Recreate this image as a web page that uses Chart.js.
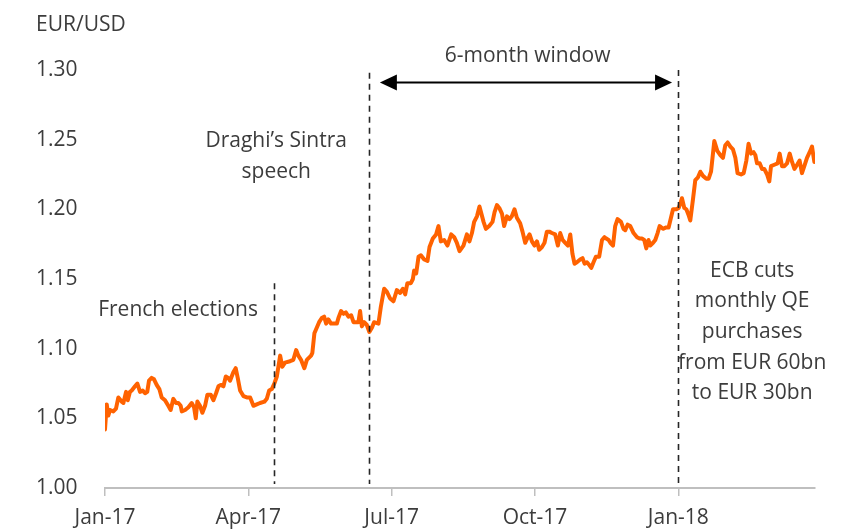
<!DOCTYPE html>
<html>
<head>
<meta charset="utf-8">
<script src="https://cdn.jsdelivr.net/npm/chart.js@4.4.1/dist/chart.umd.min.js"></script>
<style>
  html, body { margin: 0; padding: 0; background: #fff; }
  #wrap { width: 846px; height: 531px; }
</style>
</head>
<body>
<div id="wrap"><canvas id="fxChart"></canvas></div>
<script>
// EUR/USD. x = days since 1 Jan 2017
const tradeDays = [
  0,1.1,2.1,3.2,5.3,7,8.5,10.6,11.7,13.4,14.5,15.9,17,19.1,20.6,22.3,24,25.5,26.9,28,29.7,31.2,32.9,34.6,36.1,38.2,40.3,41.8,43.5,45.2,46.7,48.2,48.9,51,53.1,55.2,56.7,57.8,58.8,60.5,62,63.7,65.2,67.3,69,70.7,72.2,73.7,75.4,76.9,78.5,
  79.6,81.7,83.2,84.5,86,88.1,90.3,92.4,94.5,96.6,98.7,101.5,103,104.5,106.2,107.8,109.4,111.5,112.9,114.6,117.8,119.9,121.7,123.1,124.8,126.9,128.5,131.2,132,133.3,134.8,136.3,138,139.5,140.8,142.2,143.9,146,147.6,148.6,150.3,151.8,153.3,155,156.7,
  158.2,161.3,162.4,163.5,165,166.7,168.3,169.9,171.3,174.1,175.6,177.7,179.4,181.5,183.6,185.8,187.9,189.6,191.1,192.5,194.7,196,196.8,198.1,199.6,201.1,203.2,205.3,206.6,208.7,210.8,212.3,213.8,215.9,218,220.4,222.3,224,225.7,228.2,230.4,232,233.6,235,236.8,238.4,
  241,242.5,244.6,246.7,248,249.5,251,252.7,254.1,255.9,257.5,259,260.7,262.2,264.3,265.8,267.5,269.2,270.3,271.8,273.4,275,276.4,278.2,279.8,281.3,282.8,284.5,286.6,288.3,289.8,291.3,293,294.7,296.2,297.6,298.9,300.4,302.5,304,305.3,306.8,308.3,309.6,311,312.5,314.6,316.4,318,
  319.1,320.6,321.7,323.4,324.8,326.3,328.5,330.1,331.2,332.7,334.4,336.5,338.7,340.3,341.8,343.3,344.6,346,347.1,348.9,350.3,351.8,353.1,355.2,357.3,358.8,360.3,361.6,363.7,365.2,366.2,367.3,368.8,370.1,371.5,372.6,374.3,375.8,377.5,379,380.7,382.8,384.3,385.8,
  387.9,389.8,391.7,393.4,394.9,396.4,398.1,399.8,401.3,402.7,404.9,406.6,408.3,409.7,411.3,412.9,414,415.1,416.8,418.3,419.7,421.5,422.9,424,426.1,428.2,429.5,431,432.5,434.2,435.9,437.4,438.9,440.6,442.2,443.7,445.2,446.9,448.6,450.1,451.6
];
const eurusd = [
  1.042,1.060,1.052,1.056,1.055,1.057,1.065,1.062,1.061,1.069,1.063,1.069,1.070,1.073,1.075,1.069,1.070,1.068,1.069,1.077,1.079,1.078,1.074,1.071,1.065,1.063,1.059,1.056,1.064,1.061,1.061,1.059,1.055,1.056,1.058,1.061,1.058,1.050,1.062,1.059,1.054,1.059,1.067,1.067,1.063,1.068,1.073,1.074,1.073,1.080,1.079,
  1.077,1.083,1.086,1.079,1.070,1.066,1.065,1.065,1.059,1.060,1.061,1.062,1.064,1.070,1.071,1.075,1.080,1.095,1.087,1.090,1.091,1.092,1.099,1.095,1.092,1.086,1.092,1.095,1.097,1.111,1.115,1.119,1.122,1.123,1.118,1.121,1.118,1.118,1.118,1.122,1.127,1.125,1.126,1.123,1.124,
  1.119,1.119,1.127,1.116,1.119,1.117,1.112,1.115,1.119,1.118,1.130,1.143,1.141,1.136,1.134,1.142,1.140,1.143,1.139,1.147,1.147,1.150,1.156,1.154,1.166,1.167,1.164,1.163,1.173,1.179,1.182,1.188,1.177,1.178,1.174,1.182,1.180,1.176,1.170,1.174,1.182,1.177,1.183,1.191,1.195,1.202,
  1.191,1.186,1.188,1.191,1.198,1.203,1.201,1.197,1.188,1.195,1.193,1.195,1.200,1.194,1.190,1.184,1.176,1.180,1.182,1.177,1.174,1.177,1.171,1.173,1.176,1.184,1.184,1.183,1.182,1.174,1.183,1.178,1.176,1.174,1.182,1.168,1.161,1.162,1.164,1.165,1.161,1.162,1.160,1.158,1.162,1.166,1.166,1.178,1.180,
  1.179,1.178,1.176,1.174,1.188,1.193,1.191,1.186,1.185,1.189,1.188,1.183,1.180,1.179,1.179,1.178,1.172,1.178,1.174,1.176,1.178,1.183,1.188,1.186,1.187,1.187,1.194,1.200,1.200,1.201,1.204,1.208,1.201,1.200,1.196,1.192,1.207,1.221,1.223,1.227,1.224,1.222,1.222,1.227,
  1.249,1.242,1.239,1.237,1.246,1.248,1.245,1.243,1.237,1.226,1.225,1.226,1.235,1.247,1.240,1.241,1.239,1.233,1.233,1.229,1.229,1.225,1.220,1.231,1.232,1.233,1.240,1.231,1.231,1.233,1.240,1.234,1.229,1.232,1.235,1.226,1.231,1.237,1.241,1.245,1.234
];

// quarter ticks on the time axis
const tickDays = [0, 91.25, 182.5, 273.75, 365];
const tickLabels = ['Jan-17', 'Apr-17', 'Jul-17', 'Oct-17', 'Jan-18'];

// event markers (dashed verticals): day, top of the line
const eventDays = [107.6, 168.2, 365];
const eventTops = [1.147, 1.298, 1.30];

const FONT = '"Open Sans", "Noto Sans", sans-serif';
const TEXT = '#3c3c3c';

// text notes + the 6-month arrow, placed in data units
const notes = {
  arrow: { from: 175, to: 361, level: 1.291 },
  window: { x: 269, y: 1.310, text: '6-month window' },
  draghi: { x: 109, y: [1.249, 1.227], text: ['Draghi\u2019s Sintra', 'speech'] },
  french: { x: 46.5, y: [1.128], text: ['French elections'] },
  ecb: { x: 412, y: [1.156, 1.134, 1.112, 1.090, 1.068],
         text: ['ECB cuts', 'monthly QE', 'purchases', 'from EUR 60bn', 'to EUR 30bn'] }
};

const notesPlugin = {
  id: 'notes',
  afterDatasetsDraw(chart) {
    const { ctx, scales: { x, y } } = chart;
    ctx.save();

    // dashed event lines
    ctx.strokeStyle = '#262626';
    ctx.lineWidth = 1.6;
    ctx.setLineDash([6, 5]);
    eventDays.forEach((d, i) => {
      const px = Math.round(x.getPixelForValue(d)) + 0.5;
      ctx.beginPath();
      ctx.moveTo(px, y.getPixelForValue(eventTops[i]));
      ctx.lineTo(px, y.getPixelForValue(1.0) - 4);
      ctx.stroke();
    });
    ctx.setLineDash([]);

    // double-headed arrow
    const ax1 = x.getPixelForValue(notes.arrow.from);
    const ax2 = x.getPixelForValue(notes.arrow.to);
    const ay = y.getPixelForValue(notes.arrow.level);
    const head = 17, half = 8;
    ctx.strokeStyle = '#000';
    ctx.fillStyle = '#000';
    ctx.lineWidth = 2;
    ctx.beginPath();
    ctx.moveTo(ax1 + head - 2, ay);
    ctx.lineTo(ax2 - head + 2, ay);
    ctx.stroke();
    ctx.beginPath();
    ctx.moveTo(ax1, ay);
    ctx.lineTo(ax1 + head, ay - half);
    ctx.lineTo(ax1 + head, ay + half);
    ctx.closePath();
    ctx.fill();
    ctx.beginPath();
    ctx.moveTo(ax2, ay);
    ctx.lineTo(ax2 - head, ay - half);
    ctx.lineTo(ax2 - head, ay + half);
    ctx.closePath();
    ctx.fill();

    // text
    ctx.fillStyle = TEXT;
    ctx.font = '21px ' + FONT;
    ctx.textAlign = 'center';
    ctx.textBaseline = 'middle';
    ctx.fillText(notes.window.text, x.getPixelForValue(notes.window.x), y.getPixelForValue(notes.window.y));
    [notes.draghi, notes.french, notes.ecb].forEach(n => {
      n.text.forEach((t, i) => {
        ctx.fillText(t, x.getPixelForValue(n.x), y.getPixelForValue(n.y[i]));
      });
    });

    // axis title
    ctx.textAlign = 'left';
    ctx.fillText('EUR/USD', 36, 25);
    ctx.restore();
  }
};

const ctx = document.getElementById('fxChart').getContext('2d');
new Chart(ctx, {
  type: 'line',
  data: {
    datasets: [{
      label: 'EUR/USD',
      data: tradeDays.map((d, i) => ({ x: d, y: eurusd[i] })),
      borderColor: '#ff6200',
      borderWidth: 4,
      borderJoinStyle: 'round',
      borderCapStyle: 'round',
      pointRadius: 0,
      tension: 0,
      fill: false
    }]
  },
  options: {
    responsive: true,
    maintainAspectRatio: false,
    animation: false,
    layout: { padding: { top: 70, left: 36, right: 31, bottom: 0 } },
    plugins: { legend: { display: false }, tooltip: { enabled: false } },
    scales: {
      x: {
        type: 'linear',
        min: 0,
        max: 452,
        afterBuildTicks: (scale) => { scale.ticks = tickDays.map(v => ({ value: v })); },
        afterFit: (scale) => { scale.height = 43; },
        grid: { drawOnChartArea: false, drawTicks: true, tickLength: 8, color: '#bfbfbf', lineWidth: 1.5 },
        border: { display: true, color: '#bfbfbf', width: 2 },
        ticks: {
          autoSkip: false,
          maxRotation: 0,
          padding: 9,
          color: TEXT,
          font: { family: FONT, size: 21 },
          callback: (v, i) => tickLabels[i]
        }
      },
      y: {
        min: 1.0,
        max: 1.3,
        afterFit: (scale) => { scale.width = 69; },
        grid: { display: false },
        border: { display: false },
        ticks: {
          stepSize: 0.05,
          crossAlign: 'far',
          color: TEXT,
          font: { family: FONT, size: 21 },
          callback: (v) => v.toFixed(2)
        }
      }
    }
  },
  plugins: [notesPlugin]
});
</script>
</body>
</html>
